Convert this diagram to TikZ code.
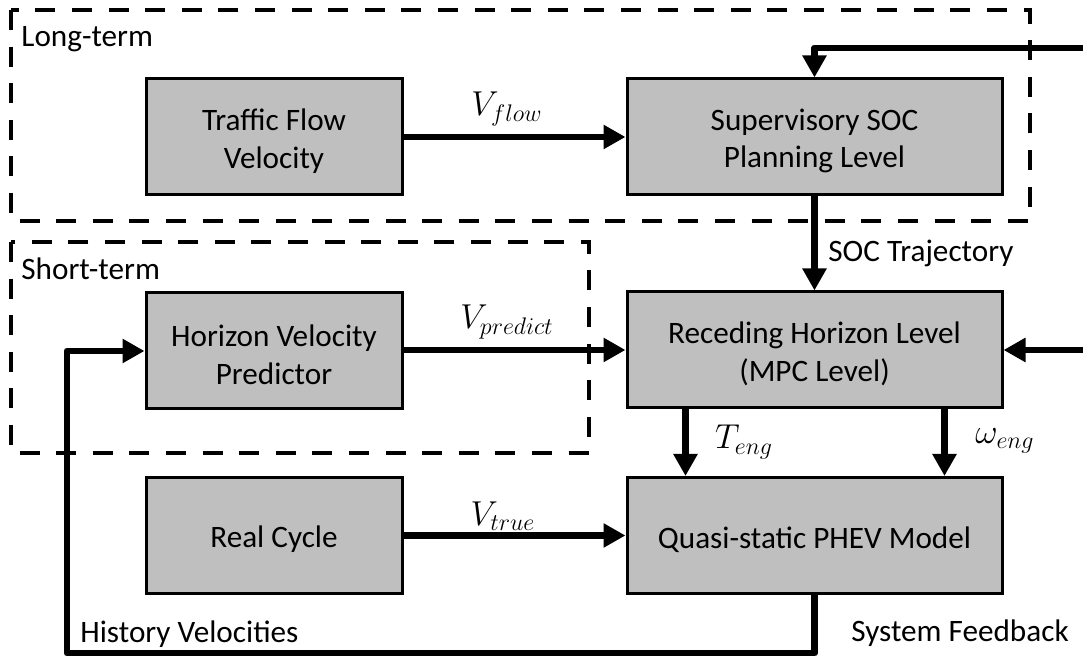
\documentclass[tikz,border=0pt]{standalone}
\usepackage{fontspec}
\setmainfont{Carlito}
\usetikzlibrary{arrows.meta}
\definecolor{boxgray}{HTML}{BFBFBF}
\tikzset{
  blk/.style={draw=black, line width=1.5pt, fill=boxgray, inner sep=0pt},
  lbox/.style={blk, minimum width=128pt, minimum height=58pt},
  rbox/.style={blk, minimum width=187.5pt, minimum height=58pt},
  btext/.style={align=center, inner sep=0pt,
    font=\fontsize{15.6}{18.8}\selectfont},
  arr/.style={line width=3.4pt, line join=round,
    -{Triangle[length=11pt,width=11.5pt]}},
  zone/.style={line width=2.2pt, dash pattern=on 10pt off 8.3pt},
  txt/.style={font=\fontsize{15.6}{18}\selectfont, inner sep=0pt},
  mlab/.style={font=\fontsize{16.5}{18}\selectfont, inner sep=0pt}
}
\begin{document}
\begin{tikzpicture}[x=0.5pt, y=-0.5pt]
\useasboundingbox (0,0) rectangle (1083,656);

% dashed grouping frames
\draw[zone] (11,10) rectangle (1030,221);
\draw[zone] (11,242) rectangle (589,453);
\node[txt, anchor=base west] (lt) at (21,47) {Long-term};
\node[txt, anchor=base west] (st) at (21,280) {Short-term};

% blocks
\node[lbox] (tfv) at (274,137) {};
\node[rbox] (sup) at (814.5,137) {};
\node[lbox] (hvp) at (274,351) {};
\node[rbox] (rhl) at (814.5,350) {};
\node[lbox] (rc) at (274,535.5) {};
\node[rbox] (qsm) at (814.5,535.5) {};

% block captions, set slightly below the block centres
\node[btext] (tfvt) at ([yshift=-2pt]tfv.center) {Traffic Flow\\Velocity};
\node[btext] (supt) at ([yshift=-2pt]sup.center) {Supervisory SOC\\Planning Level};
\node[btext] (hvpt) at ([yshift=-2pt]hvp.center) {Horizon Velocity\\Predictor};
\node[btext] (rhlt) at ([yshift=-2pt]rhl.center) {Receding Horizon Level\\(MPC Level)};
\node[btext] (rct) at ([yshift=-2pt]rc.center) {Real Cycle};
\node[btext] (qsmt) at ([yshift=-2pt]qsm.center) {Quasi-static PHEV Model};

% external inputs and feedback corner
\coordinate (inA) at (1083,48);
\coordinate (inB) at (1083,350);
\coordinate (fbL) at (67,653);

% connectors
\draw[arr] (tfv.east) -- (sup.west);
\draw[arr] (hvp.east |- rhl.west) -- (rhl.west);
\draw[arr] (rc.east) -- (rc.east -| qsm.west);
\draw[arr] (sup.south) -- (rhl.north);
\draw[arr] ([xshift=30pt]rhl.south west) -- ([xshift=30pt]qsm.north west);
\draw[arr] ([xshift=-29.5pt]rhl.south east) -- ([xshift=-29.5pt]qsm.north east);
\draw[arr] (inA) -| (sup.north);
\draw[arr] (inB) -- (rhl.east);
\draw[arr] (qsm.south) |- (fbL) |- (hvp.west);

% connector labels
\node[mlab] (vflow) at (507,109) {$V_{flow}$};
\node[mlab] (vpred) at (507,322) {$V_{predict}$};
\node[mlab] (vtrue) at (503,516) {$V_{true}$};
\node[mlab] (teng) at (744,442) {$T_{eng}$};
\node[mlab] (weng) at (1005,441) {$\omega_{eng}$};
\node[txt, anchor=base west] (soct) at (828,262) {SOC Trajectory};
\node[txt, anchor=base west] (histv) at (80,643) {History Velocities};
\node[txt, anchor=base west] (sysfb) at (851,642) {System Feedback};
\end{tikzpicture}
\end{document}
